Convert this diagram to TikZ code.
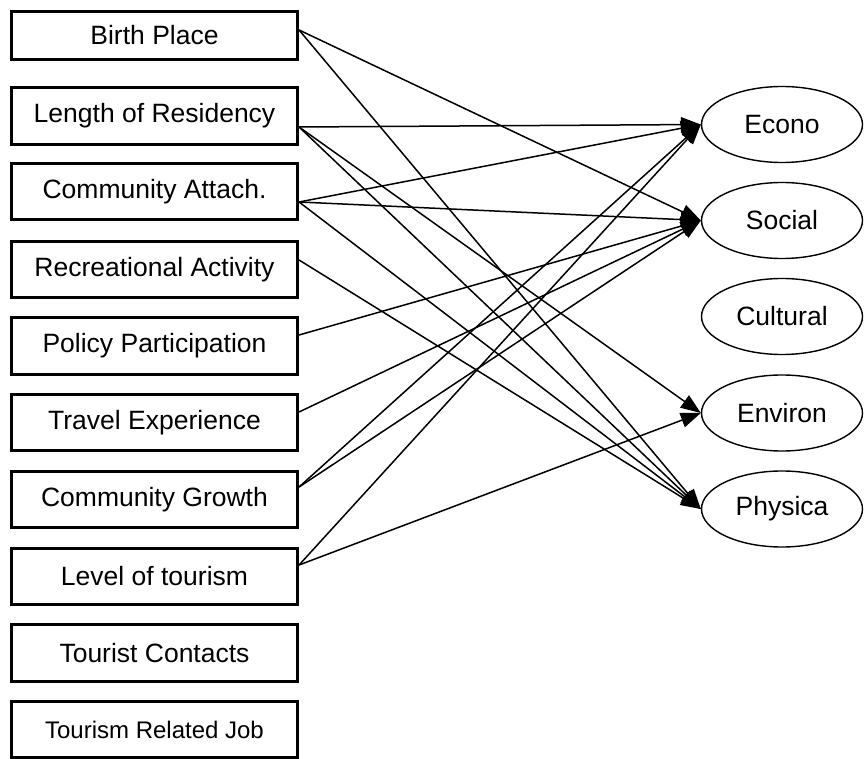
\documentclass[tikz,border=0pt]{standalone}
\usepackage{fontspec}
\setmainfont{Liberation Sans}
\usetikzlibrary{arrows.meta,shapes.geometric}
\begin{document}
\begin{tikzpicture}[x=1pt,y=-1pt,
  box/.style={draw,line width=2.8pt,minimum width=286.3pt,minimum height=56.3pt,inner sep=0pt,font=\fontsize{26.5}{30}\selectfont},
  oval/.style={draw,ellipse,line width=1.4pt,minimum width=161pt,minimum height=76pt,inner sep=0pt,font=\fontsize{26.5}{30}\selectfont},
  link/.style={line width=1.5pt,-{Triangle[length=20pt,width=15pt]}}]
\useasboundingbox (0,0) rectangle (865,759);
% left boxes
\node[box,minimum height=48.3pt] (bp) at (154.5,35.5) {Birth Place};
\node[box] (lr) at (154.5,116) {Length of Residency};
\node[box] (ca) at (154.5,191.5) {Community Attach.};
\node[box] (ra) at (154.5,269.5) {Recreational Activity};
\node[box] (pp) at (154.5,346) {Policy Participation};
\node[box] (te) at (154.5,422.5) {Travel Experience};
\node[box] (cg) at (154.5,499.5) {Community Growth};
\node[box] (lt) at (154.5,576.5) {Level of tourism};
\node[box] (tc) at (154.5,653) {Tourist Contacts};
\node[box,font=\fontsize{24}{28}\selectfont] (tj) at (154.5,729.5) {Tourism Related Job};
% right ellipses
\node[oval] (ec) at (782,124.5) {Econo};
\node[oval] (so) at (782,220.5) {Social};
\node[oval] (cu) at (782,316.5) {Cultural};
\node[oval] (en) at (782,413) {Environ};
\node[oval] (ph) at (782,509) {Physica};
% connectors
\draw[link] ([yshift=5.5pt]bp.east) -- (so.west);
\draw[link] ([yshift=5.5pt]bp.east) -- (ph.west);
\draw[link] ([yshift=-11pt]lr.east) -- (ec.west);
\draw[link] ([yshift=-11pt]lr.east) -- (en.west);
\draw[link] ([yshift=-11pt]lr.east) -- (ph.west);
\draw[link] ([yshift=-10.5pt]ca.east) -- (ec.west);
\draw[link] ([yshift=-10.5pt]ca.east) -- (so.west);
\draw[link] ([yshift=-10.5pt]ca.east) -- (ph.west);
\draw[link] ([yshift=9.5pt]ra.east) -- (ph.west);
\draw[link] ([yshift=11pt]pp.east) -- (so.west);
\draw[link] ([yshift=10.5pt]te.east) -- (so.west);
\draw[link] ([yshift=12.5pt]cg.east) -- (ec.west);
\draw[link] ([yshift=12.5pt]cg.east) -- (so.west);
\draw[link] ([yshift=11.5pt]lt.east) -- (ec.west);
\draw[link] ([yshift=11.5pt]lt.east) -- (en.west);
\end{tikzpicture}
\end{document}
